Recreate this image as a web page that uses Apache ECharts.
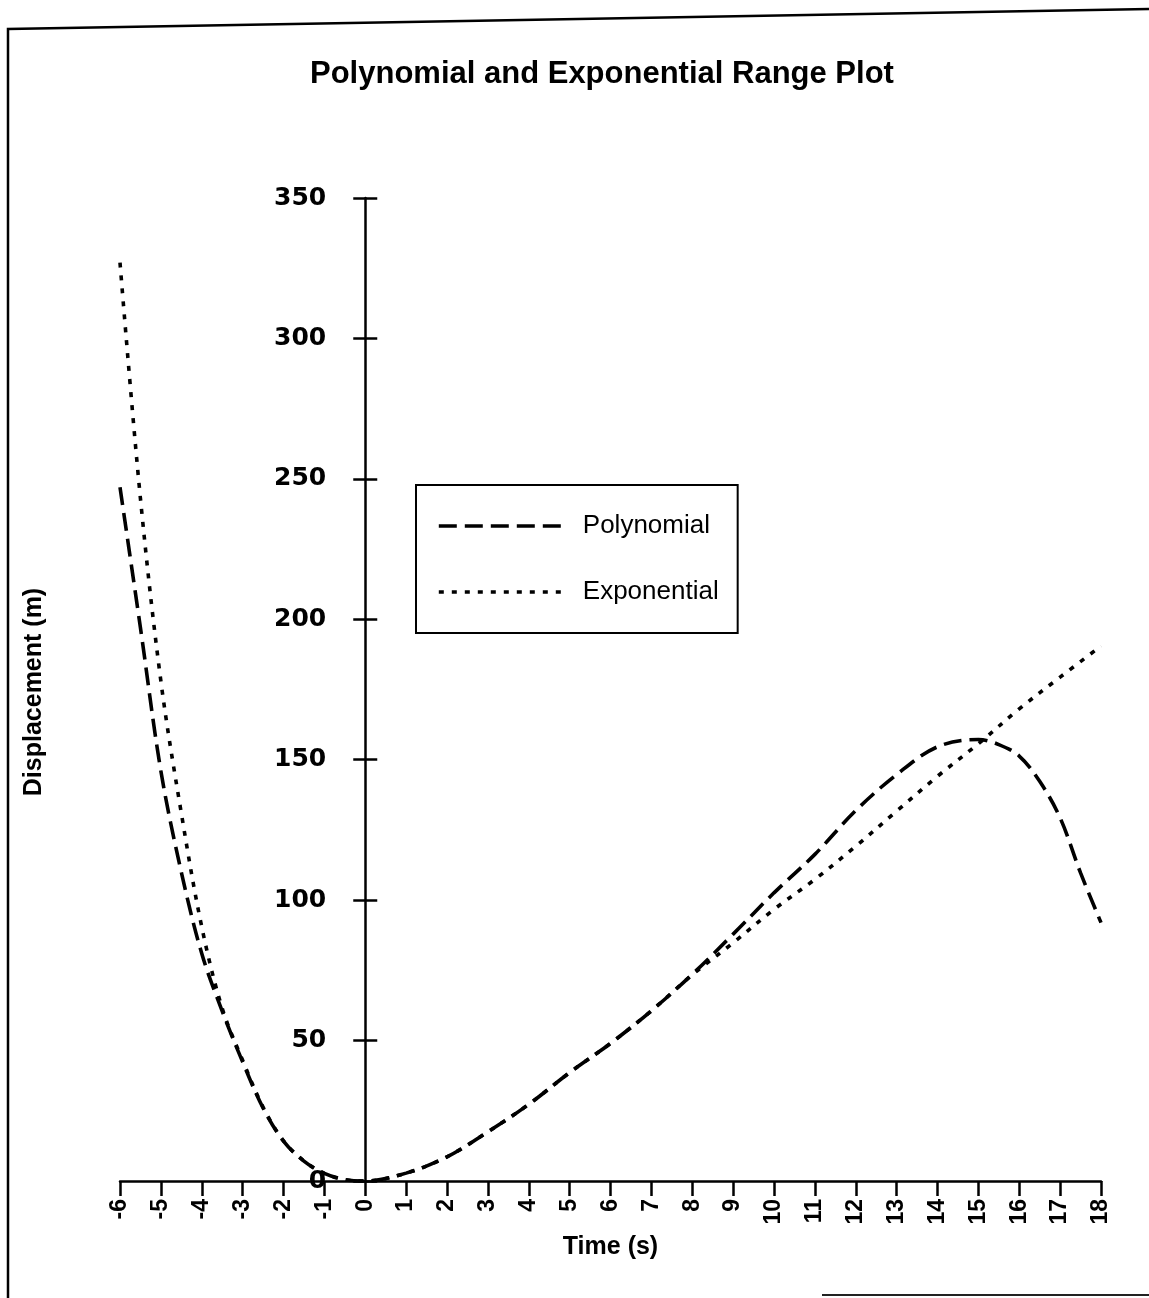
<!DOCTYPE html>
<html>
<head>
<meta charset="utf-8">
<script src="https://cdn.jsdelivr.net/npm/echarts@6/dist/echarts.min.js"></script>
<style>
html,body{margin:0;padding:0;background:#fff;}
#chart{width:1149px;height:1298px;}
</style>
</head>
<body>
<div id="chart"></div>
<script>
// ---- data ----
var titleText = 'Polynomial and Exponential Range Plot';
var xName = 'Time (s)';
var yName = 'Displacement (m)';
var seriesNames = ['Polynomial', 'Exponential'];

var polyTime = [-6,-5.5,-5,-4.5,-4,-3.5,-3,-2.5,-2,-1.5,-1,-0.5,0,1,2,3,4,5,6,7,8,9,10,11,12,13,14,15,15.5,16,16.5,17,17.5,18];
var polyValues = [247,197,146,110,81,60.5,42.4,26,14.2,7.1,2.7,0.5,0,2.8,8.6,17.5,27.3,38.6,49,60.6,73.6,87.9,102.6,116.3,131.9,144.7,154.6,157.2,155.4,151.3,142.3,129.3,109.7,92];

var expTime = [-6,-5.5,-5,-4.5,-4,-3.5,-3,-2.5,-2,-1.5,-1,-0.5,0,1,2,3,4,5,6,7,8,9,10,11,12,13,14,15,16,17,18];
var expValues = [327,243,178,131,90.5,61.5,43,26.3,14.3,7.1,2.7,0.5,0,2.8,8.6,17.5,27.3,38.6,49,60.6,73.4,84.8,96.7,107.4,119.2,131.7,144.1,155.7,168.1,179.4,190.5];

var xMin = -6, xMax = 18, xStep = 1;
var yMin = 0, yMax = 350, yStep = 50;

function pairs(ts, vs){ return ts.map(function(t,i){ return [t, vs[i]]; }); }

var GRID = {left: 120, right: 48, top: 198, bottom: 117};
var plotW = 1149 - GRID.left - GRID.right;
// place the y axis where x = 0 (axis crossing), as a pixel offset from the grid's left edge
var yAxisOffset = -plotW * (0 - xMin) / (xMax - xMin);

var chart = echarts.init(document.getElementById('chart'), null, {renderer:'canvas'});
var FONT = '"Liberation Sans", Arial, Helvetica, sans-serif';

chart.setOption({
  backgroundColor: '#fff',
  animation: false,
  title: {
    text: titleText,
    left: 310, top: 59, padding: 0,
    textStyle: {fontFamily: FONT, fontWeight: 'bold', fontSize: 31, color: '#000'}
  },
  legend: {
    data: seriesNames,
    orient: 'vertical',
    left: 416, top: 485,
    padding: [28, 19, 28, 21],
    itemWidth: 128, itemHeight: 14, itemGap: 40,
    borderColor: '#000', borderWidth: 2, borderRadius: 0,
    backgroundColor: '#fff',
    itemStyle: {opacity: 0},
    lineStyle: {width: 3.6, color: '#000'},
    textStyle: {fontFamily: FONT, fontSize: 26, color: '#000', padding: [0,0,0,11], lineHeight: 26},
    selectedMode: false
  },
  grid: {left: GRID.left, right: GRID.right, top: GRID.top, bottom: GRID.bottom, containLabel: false},
  xAxis: {
    type: 'value', min: xMin, max: xMax, interval: xStep,
    name: xName, nameLocation: 'middle', nameGap: 54,
    nameTextStyle: {fontFamily: FONT, fontWeight: 'bold', fontSize: 25, color: '#000'},
    axisLine: {onZero: false, lineStyle: {color: '#000', width: 2.5}},
    axisTick: {length: 15, lineStyle: {color: '#000', width: 2.5}},
    axisLabel: {rotate: 90, margin: 18, fontFamily: FONT, fontWeight: 'bold', fontSize: 23, color: '#000'},
    splitLine: {show: false}
  },
  yAxis: [{
    type: 'value', min: yMin, max: yMax, interval: yStep, position: 'left', offset: yAxisOffset,
    axisLine: {onZero: false, lineStyle: {color: '#000', width: 2.5}},
    axisTick: {length: 12, lineStyle: {color: '#000', width: 2.5}},
    axisLabel: {margin: 39, fontFamily: '"DejaVu Sans", sans-serif', fontWeight: 'bold', fontSize: 25, color: '#000'},
    splitLine: {show: false}
  }, {
    type: 'value', min: yMin, max: yMax, interval: yStep, position: 'left', offset: yAxisOffset,
    axisLine: {show: false, onZero: false},
    axisTick: {inside: true, length: 12, lineStyle: {color: '#000', width: 2.5}},
    axisLabel: {show: false},
    splitLine: {show: false}
  }],
  series: [{
    name: seriesNames[0], type: 'line', smooth: 0.35, symbol: 'none',
    data: pairs(polyTime, polyValues),
    lineStyle: {color: '#000', width: 3.6, type: [18, 8]},
    itemStyle: {color: '#000'}
  }, {
    name: seriesNames[1], type: 'line', smooth: 0.35, symbol: 'none',
    data: pairs(expTime, expValues),
    lineStyle: {color: '#000', width: 3.6, type: [5, 8]},
    itemStyle: {color: '#000'}
  }],
  graphic: [
    {type: 'polyline', shape: {points: [[8,1298],[8,29],[1149,9]]}, style: {stroke: '#000', lineWidth: 2.5, fill: null}},
    {type: 'line', shape: {x1: 822, y1: 1295, x2: 1149, y2: 1295}, style: {stroke: '#222', lineWidth: 2}},
    {type: 'text', x: 34, y: 692, rotation: Math.PI/2,
     style: {text: yName, fontFamily: FONT, fontWeight: 'bold', fontSize: 25, fill: '#000', textAlign: 'center', textVerticalAlign: 'middle'}}
  ]
});
</script>
</body>
</html>
